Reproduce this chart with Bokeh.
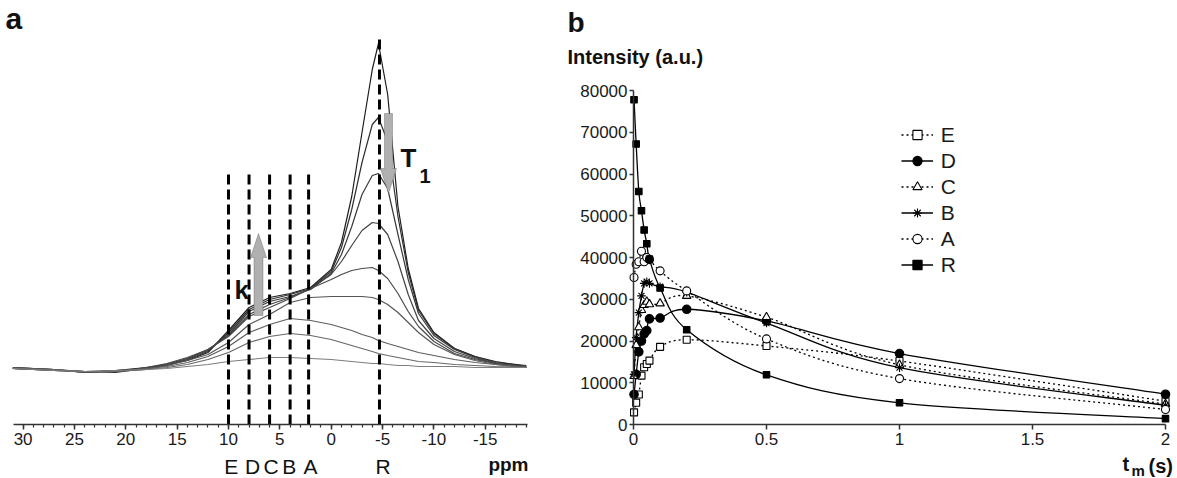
from bokeh.plotting import figure
from bokeh.models import (Range1d, FixedTicker, Label, PolyAnnotation, Legend,
                          LegendItem, NumeralTickFormatter)
from bokeh.layouts import row
from bokeh.embed import file_html
from bokeh.resources import INLINE

FONT = "Liberation Sans"

# ---------------- Panel a data (intensity in arbitrary units) ----------------
ppm = [31, 27, 24, 21, 18, 16, 14, 12, 10, 8, 6, 4, 2, 0, -1, -2, -3, -4, -4.6,
       -5.5, -6.5, -7.5, -8.5, -10, -12, -14, -16, -19]
spec1 = [57, 55, 52, 54, 57, 60, 64, 72, 94, 117, 127, 131, 137, 155, 182, 228, 292, 355, 381, 330, 218, 156, 116, 92, 76, 68, 63, 58]
spec2 = [56, 54, 53, 52, 56, 59, 65, 73, 92, 115, 125, 130, 136, 153, 177, 215, 262, 300, 307, 283, 208, 152, 114, 91, 76, 68, 62, 59]
spec3 = [57, 55, 53, 54, 55, 60, 66, 74, 90, 113, 123, 128, 135, 151, 170, 198, 230, 249, 251, 236, 190, 145, 111, 89, 75, 67, 61, 57]
spec4 = [56, 55, 52, 53, 57, 61, 67, 75, 89, 110, 120, 127, 136, 150, 163, 179, 194, 202, 201, 190, 163, 130, 104, 86, 73, 66, 61, 58]
spec5 = [56, 54, 53, 53, 56, 60, 66, 75, 88, 108, 117, 126, 136, 145, 150, 154, 156, 157, 154, 146, 131, 113, 98, 83, 71, 65, 61, 57]
spec6 = [57, 55, 52, 54, 55, 59, 64, 70, 82, 100, 110, 122, 127, 128, 128, 128, 128, 127, 125, 120, 112, 102, 92, 80, 70, 64, 60, 57]
spec7 = [56, 54, 53, 53, 56, 58, 62, 68, 78, 92, 100, 106, 104, 100, 97, 94, 90, 87, 84, 81, 78, 75, 72, 69, 65, 62, 60, 57]
spec8 = [56, 55, 53, 53, 55, 57, 60, 65, 72, 82, 88, 91, 89, 85, 82, 79, 76, 73, 71, 69, 67, 65, 63, 62, 60, 59, 58, 57]
spec9 = [56, 54, 53, 54, 55, 56, 58, 60, 63, 65, 67, 67, 66, 65, 64, 63, 62, 61, 61, 60, 59, 59, 58, 58, 58, 57, 57, 57]
spectra = [spec1, spec2, spec3, spec4, spec5, spec6, spec7, spec8, spec9]
spec_colors = ["#1e1e1e", "#2e2e2e", "#383838", "#424242", "#4a4a4a",
               "#555555", "#5e5e5e", "#686868", "#7e7e7e"]

site_labels = ["E", "D", "C", "B", "A", "R"]
site_ppm = [10, 8, 6, 4, 2.2, -4.7]
a_ticks = [30, 25, 20, 15, 10, 5, 0, -5, -10, -15]

# ---------------- Panel b data ----------------
tm = [0.002, 0.01, 0.02, 0.03, 0.04, 0.05, 0.06, 0.1, 0.2, 0.5, 1, 2]
R = [77800, 67200, 55800, 51200, 46600, 43300, 39600, 32700, 22700, 11900, 5200, 1400]
E = [2900, 5200, 7200, 11700, 13700, 14500, 15300, 18600, 20300, 18800, 15200, 5600]
D = [7200, 12000, 17400, 20000, 21700, 22500, 25300, 25500, 27600, 24800, 17000, 7250]
C = [11600, 19000, 23300, 27400, 28600, 29400, 28800, 29000, 30800, 25700, 14300, 4900]
B = [12000, 20800, 26800, 30800, 33800, 34200, 33800, 33000, 31700, 24300, 13600, 4600]
A = [35200, 38400, 39000, 41500, 39000, 40000, 39500, 36800, 32000, 20500, 11000, 3600]
b_xticks = [0, 0.5, 1, 1.5, 2]
b_yticks = [0, 10000, 20000, 30000, 40000, 50000, 60000, 70000, 80000]

# ---------------- geometry (page pixel -> data) ----------------
H = 478
P1_X, P1_W = 0, 560
P2_X, P2_W = 560, 617
TOP, BOT = 0, H


def ax(px):                      # panel a: ppm from page x
    return 10 - (px - 228) / 10.27


def ay(py):                      # panel a: height from page y
    return 424 - py


B_L, B_R, B_T, B_B = 633, 1165, 90, 424


def bx(px):
    return (px - B_L) * 2.0 / (B_R - B_L)


def by(py):
    return (B_B - py) * 80000.0 / (B_B - B_T)


def style_axis(axis):
    axis.axis_line_width = 1.5
    axis.axis_line_color = "#333333"
    axis.major_tick_line_width = 1.5
    axis.major_tick_line_color = "#333333"
    axis.major_tick_in = 0
    axis.major_label_text_font = FONT
    axis.major_label_text_font_size = "17px"
    axis.major_label_text_color = "#1a1a1a"


# ---------------- Panel a ----------------
p1 = figure(width=P1_W, height=H,
            x_range=Range1d(ax(P1_X), ax(P1_X + P1_W)), y_range=Range1d(ay(BOT), ay(TOP)),
            output_backend="svg", toolbar_location=None, y_axis_location=None,
            min_border_left=0, min_border_right=0, min_border_top=0, min_border_bottom=0)
p1.outline_line_color = None
p1.grid.visible = False
xa = p1.xaxis[0]
style_axis(xa)
xa.fixed_location = 0
xa.bounds = (ax(527), ax(13))
xa.ticker = FixedTicker(ticks=a_ticks, minor_ticks=list(range(-19, 31)))
xa.major_label_overrides = {t: str(t) for t in a_ticks}
xa.minor_tick_line_color = "#333333"
xa.minor_tick_line_width = 1.2
xa.major_tick_out = 5
xa.minor_tick_out = 3
xa.minor_tick_in = 0
xa.major_label_standoff = 3

for s, c in zip(spectra, spec_colors):
    p1.line(ppm, s, line_color=c, line_width=1.2)

tops = [ay(172)] * 5 + [ay(38)]
p1.segment(x0=site_ppm, y0=[0] * len(site_ppm), x1=site_ppm, y1=tops,
           line_color="black", line_width=3, line_dash="10 5")


def block_arrow(cx, y_tail, y_tip, shaft_hw, head_hw, head_y):
    xs = [cx - shaft_hw, cx + shaft_hw, cx + shaft_hw, cx + head_hw, cx, cx - head_hw, cx - shaft_hw]
    ys = [y_tail, y_tail, head_y, head_y, y_tip, head_y, head_y]
    return [ax(x) for x in xs], [ay(y) for y in ys]


for (cx, yt, ytip, shw, hhw, hy) in [(388, 113, 193, 4, 8, 168), (258, 315, 233, 4.5, 8, 257)]:
    xs, ys = block_arrow(cx, yt, ytip, shw, hhw, hy)
    p1.add_layout(PolyAnnotation(xs=xs, ys=ys, xs_units="data", ys_units="data",
                                 fill_color="#b0b0b0", fill_alpha=1, line_color="#3a3a3a",
                                 line_width=1))


def lab(fig, x, y, text, size, bold=True, align="left", **kw):
    fig.add_layout(Label(x=x, y=y, text=text, text_font=FONT,
                         text_font_style="bold" if bold else "normal",
                         text_font_size=size, text_align=align, text_baseline="bottom",
                         text_color="#111111", **kw))


lab(p1, ax(400), ay(172), "T", "26px")
lab(p1, ax(419), ay(182), "1", "20px")
lab(p1, ax(234), ay(304), "k", "26px")
lab(p1, ax(5), ay(34), "a", "30px")
letter_px = [230.7, 252, 270.7, 288.7, 310, 382.7]
for name, xp in zip(site_labels, letter_px):
    lab(p1, ax(xp), ay(477), name, "21px", bold=False, align="center")
lab(p1, ax(528), ay(474), "ppm", "19px", align="right")

# ---------------- Panel b ----------------
p2 = figure(width=P2_W, height=H,
            x_range=Range1d(bx(P2_X), bx(P2_X + P2_W)), y_range=Range1d(by(BOT), by(TOP)),
            output_backend="svg", toolbar_location=None,
            min_border_left=0, min_border_right=0, min_border_top=0, min_border_bottom=0)
p2.outline_line_color = None
p2.grid.visible = False
xb, yb = p2.xaxis[0], p2.yaxis[0]
for axis in (xb, yb):
    style_axis(axis)
    axis.minor_tick_line_color = None
    axis.fixed_location = 0
xb.bounds = (0, 2)
yb.bounds = (0, 80000)
xb.ticker = FixedTicker(ticks=b_xticks)
xb.major_label_overrides = {0: "0", 0.5: "0.5", 1: "1", 1.5: "1.5", 2: "2"}
xb.major_tick_out = 5
xb.major_label_standoff = 3
yb.ticker = FixedTicker(ticks=b_yticks)
yb.formatter = NumeralTickFormatter(format="0")
yb.major_tick_out = 4
yb.major_label_standoff = 2

SX = (B_R - B_L) / 2.0
SY = (B_B - B_T) / 80000.0


def bezier_parts(xs, ys):
    X = [x * SX for x in xs]
    Y = [y * SY for y in ys]
    n = len(X)
    d = dict(x0=[], y0=[], x1=[], y1=[], cx0=[], cy0=[], cx1=[], cy1=[])
    for i in range(n - 1):
        i0 = max(i - 1, 0)
        i3 = min(i + 2, n - 1)
        c1x = X[i] + (X[i + 1] - X[i0]) / 6.0
        c1y = Y[i] + (Y[i + 1] - Y[i0]) / 6.0
        c2x = X[i + 1] - (X[i3] - X[i]) / 6.0
        c2y = Y[i + 1] - (Y[i3] - Y[i]) / 6.0
        d["x0"].append(X[i] / SX); d["y0"].append(Y[i] / SY)
        d["x1"].append(X[i + 1] / SX); d["y1"].append(Y[i + 1] / SY)
        d["cx0"].append(c1x / SX); d["cy0"].append(c1y / SY)
        d["cx1"].append(c2x / SX); d["cy1"].append(c2y / SY)
    return d


series = [
    ("E", E, "2 3", "square", 7, "white"),
    ("D", D, "solid", "circle", 8.5, "black"),
    ("C", C, "2 3", "triangle", 8.5, "white"),
    ("B", B, "solid", "asterisk", 8.5, "black"),
    ("A", A, "2 3", "circle", 8, "white"),
    ("R", R, "solid", "square", 6.5, "black"),
]

curves = []
for name, vals, dash, marker, size, fill in series:
    d = bezier_parts(tm, vals)
    bz = p2.bezier(line_color="black", line_width=1.3, line_dash=dash, **d)
    curves.append(bz)

legend_items = []
for (name, vals, dash, marker, size, fill), bz in zip(series, curves):
    sc = p2.scatter(tm, vals, marker=marker, size=size, fill_color=fill,
                    line_color="black", line_width=1.1)
    legend_items.append(LegendItem(label=name, renderers=[bz, sc]))

legend = Legend(items=legend_items, location=(900.7 - P2_X, BOT - 276.5), orientation="vertical",
                glyph_width=32, glyph_height=23, label_height=23, spacing=2, padding=0,
                margin=0, label_standoff=8, label_text_font=FONT,
                label_text_font_size="21px", label_text_color="#1a1a1a",
                background_fill_alpha=0, border_line_alpha=0)
p2.add_layout(legend)

lab(p2, bx(567), by(37), "b", "28px")
lab(p2, bx(567), by(67), "Intensity (a.u.)", "20px")
lab(p2, bx(1122), by(474), "t", "20px")
lab(p2, bx(1131), by(478), "m", "15px")
lab(p2, bx(1148), by(476), "(s)", "20px")

layout = row(p1, p2, spacing=0)
open("out.html", "w").write(file_html(layout, INLINE))
